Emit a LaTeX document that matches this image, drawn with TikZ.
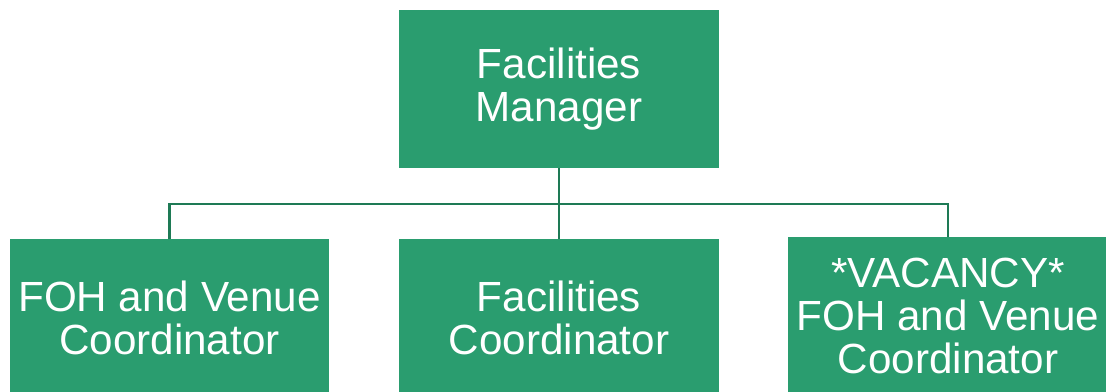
\documentclass[tikz,border=0pt]{standalone}
\usepackage{fontspec}
\setmainfont{Liberation Sans}
\usepackage{tikz}
\usetikzlibrary{calc}
\definecolor{boxgreen}{RGB}{42,157,111}
\definecolor{linegreen}{RGB}{30,122,85}
\tikzset{
  rolebox/.style={fill=boxgreen, text=white, minimum width=7.975cm, minimum height=3.95cm,
    inner sep=0pt, align=center, font=\fontsize{30}{30.6}\selectfont},
  link/.style={draw=linegreen, line width=2.1pt}
}
\begin{document}
\begin{tikzpicture}[x=0.025cm,y=-0.025cm]
            % frame
            \useasboundingbox (0,0) rectangle (1106,391);
            \clip (0,0) rectangle (1106,391);
            % coordinates
            \coordinate (bus) at (559,204); % horizontal link line
            % manager
            \node[rolebox] (mgr) at (559,89) {Facilities\\Manager};
            % coordinators
            \node[rolebox] (foh) at (169.5,318) {FOH and Venue\\Coordinator};
            \node[rolebox] (fac) at (559,318) {Facilities\\Coordinator};
            \node[rolebox] (vac) at (948,316) {*VACANCY*\\FOH and Venue\\Coordinator};
            % links
            \draw[link] (mgr.south) -- (fac.north);
            \draw[link] (bus) -| (foh.north);
            \draw[link] (bus) -| (vac.north);
        \end{tikzpicture}
\end{document}
